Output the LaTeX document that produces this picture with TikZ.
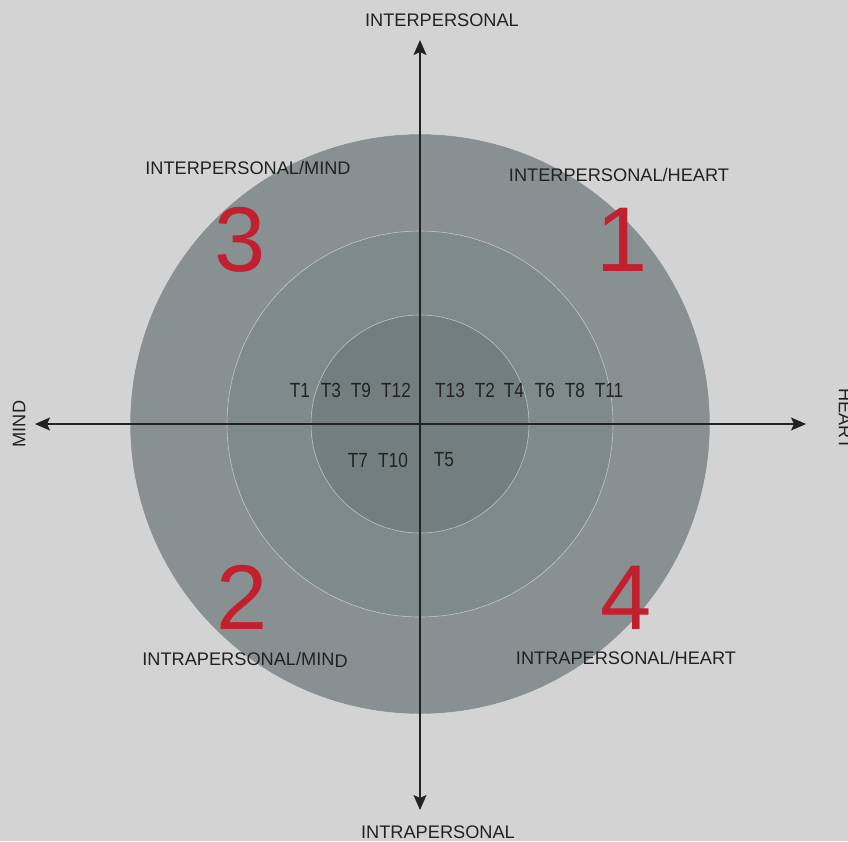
\documentclass[tikz,border=0pt]{standalone}
\usepackage{fontspec}
\setmainfont{Liberation Sans}
\newfontfamily\condfont[FakeStretch=0.84]{Liberation Sans}
\usetikzlibrary{arrows.meta}
\definecolor{bgc}{HTML}{D3D3D3}
\definecolor{ringA}{HTML}{899092}
\definecolor{ringB}{HTML}{7F8B8B}
\definecolor{ringC}{HTML}{737F7F}
\definecolor{numred}{HTML}{C21F2F}
\definecolor{axisc}{HTML}{222222}
\definecolor{txtc}{HTML}{222222}
\tikzset{
  ring/.style={draw=white!85!gray, line width=0.6pt, draw opacity=0.6},
  axis/.style={draw=axisc, line width=1.8pt, -{Stealth[length=15pt,width=13pt,inset=3pt]}},
  lbl/.style={text=txtc, font=\fontsize{18.2}{20}\selectfont, inner sep=0pt},
  bignum/.style={text=numred, font=\fontsize{92}{92}\selectfont, inner sep=0pt},
  tlab/.style={text=txtc, font=\condfont\fontsize{20.5}{22}\selectfont, inner sep=0pt},
}
\begin{document}
\begin{tikzpicture}[x=1pt,y=-1pt]
\fill[bgc] (0,0) rectangle (848,841);
\useasboundingbox (0,0) rectangle (848,841);
\coordinate (c) at (420,424);
\fill[ringA, ring] (c) circle[radius=290];
\fill[ringB, ring] (c) circle[radius=193];
\fill[ringC, ring] (c) circle[radius=109];
\coordinate (xl) at (35,424);
\coordinate (xr) at (806,424);
\coordinate (yt) at (420,40);
\coordinate (yb) at (420,810);
\draw[axis] (c) -- (xl);
\draw[axis] (c) -- (xr);
\draw[axis] (c) -- (yt);
\draw[axis] (c) -- (yb);
\node[lbl] (inter) at (442,20) {INTERPERSONAL};
\node[lbl] (intra) at (438,832) {INTRAPERSONAL};
\node[lbl, rotate=90] (mind) at (19,424) {MIND};
\node[lbl, rotate=-90] (heart) at (845,419) {HEART};
\node[lbl] (q3) at (248,168) {INTERPERSONAL/MIND};
\node[lbl] (q1) at (619,175) {INTERPERSONAL/HEART};
\node[lbl] (q2) at (245,660) {INTRAPERSONAL/MIN\raisebox{-2pt}{D}};
\node[lbl] (q4) at (626,658) {INTRAPERSONAL/HEART};
\node[bignum] (n3) at (240,240) {3};
\node[bignum] (n1) at (622,240) {1};
\node[bignum] (n2) at (242,597) {2};
\node[bignum] (n4) at (626,598) {4};
\node[tlab] at (300,390) {T1};
\node[tlab] at (331,390) {T3};
\node[tlab] at (361,390) {T9};
\node[tlab] at (396,390) {T12};
\node[tlab] at (450,390) {T13};
\node[tlab] at (485,390) {T2};
\node[tlab] at (514,390) {T4};
\node[tlab] at (545,390) {T6};
\node[tlab] at (575,390) {T8};
\node[tlab] at (609,390) {T11};
\node[tlab] at (358,460) {T7};
\node[tlab] at (393,460) {T10};
\node[tlab] at (444,460) {T5};
\end{tikzpicture}
\end{document}
